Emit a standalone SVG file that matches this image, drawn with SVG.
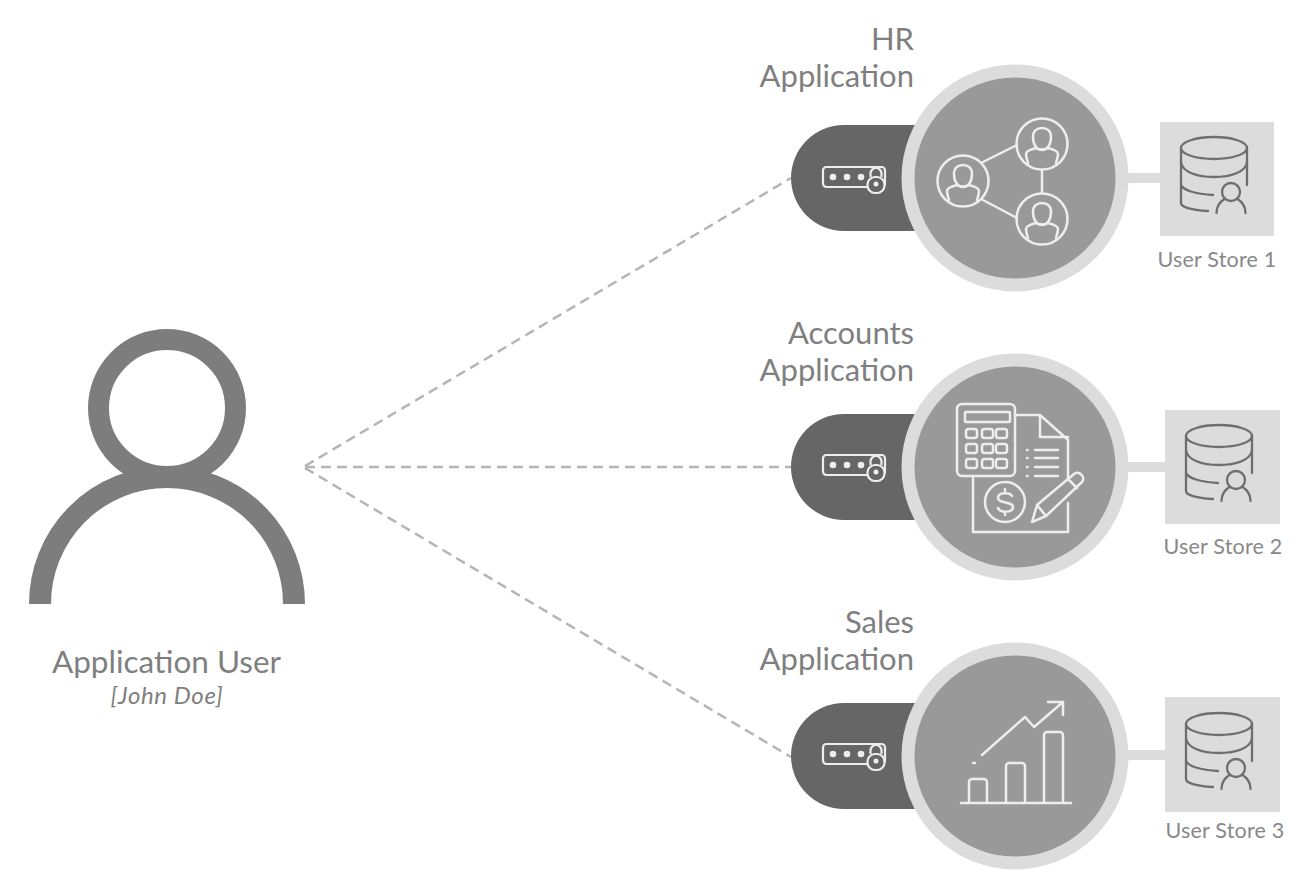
<svg xmlns="http://www.w3.org/2000/svg" width="1304" height="888" viewBox="0 0 1304 888">
<style>
text{font-family:"Lato","Open Sans","Liberation Sans",sans-serif;fill:#7f7f7f}
.app{font-size:31px;text-anchor:end}
.store{font-size:21.500px;fill:#888;text-anchor:middle;letter-spacing:.2px}
.dash{fill:none;stroke:#b5b5b5;stroke-width:2.500;stroke-dasharray:10 6}
.link{fill:#dcdcdc}
.ring{fill:#999;stroke:#dcdcdc;stroke-width:13}
.pill{fill:#666}
.box{fill:#dcdcdc}
.w{fill:none;stroke:#eee;stroke-width:2.500;stroke-linecap:round;stroke-linejoin:round}
.d{fill:none;stroke:#6e6e6e;stroke-width:2.300;stroke-linecap:round;stroke-linejoin:round}
</style>
<defs>
<g id="key">
<rect x="-21" y="-12" width="62" height="20" rx="3.500" fill="none" stroke="#eee" stroke-width="2.200"/>
<circle cx="-11" cy="-2" r="3.300" fill="#eee"/><circle cx="3" cy="-2" r="3.300" fill="#eee"/><circle cx="17" cy="-2" r="3.300" fill="#eee"/>
<path d="M26.500 -2v-3.500a5.500 5.500 0 0 1 11 0v3.500" fill="#666" stroke="#eee" stroke-width="2.200"/>
<rect x="23.500" y="-2" width="17" height="16" rx="7.500" fill="#666" stroke="#eee" stroke-width="2.200"/>
<circle cx="32" cy="5" r="2.500" fill="#eee"/>
</g>
<g id="db">
<ellipse cx="0" cy="-27" rx="33" ry="11"/>
<path d="M-33 -27V28c0 4 10 7 27 8M33 -27V10"/>
<path d="M-33 -13c1 10 16 15 33 15s32 -5 33 -15"/>
<path d="M-33 10c2 5 14 9 32 10"/>
<circle cx="17" cy="17" r="9"/>
<path d="M2.500 38c0 -6 3 -11 8 -14M31.500 38c0 -6 -3 -11 -8 -14"/>
</g>
<g id="person">
<circle r="25.500"/>
<path d="M-9 -7c0 -6 4 -9 9 -9s9 3 9 9c0 8 -4 13 -9 13s-9 -5 -9 -13z"/>
<path d="M-14 19c-1.500 -5 -2 -7 -2 -9c0 -3 6 -5 10 -6c3 2 9 2 12 0c4 1 10 3 10 6c0 2 -.5 4 -2 9"/>
</g>
</defs>

<g id="connectors">
<path class="dash" d="M305 466L791 178"/>
<path class="dash" d="M305 467H791"/>
<path class="dash" d="M305 468L791 757"/>
<rect class="link" x="1125" y="173" width="36" height="10"/>
<rect class="link" x="1125" y="462" width="42" height="10"/>
<rect class="link" x="1125" y="750" width="42" height="10"/>
</g>

<g id="user">
<circle cx="167" cy="408" r="68.500" fill="none" stroke="#7d7d7d" stroke-width="21"/>
<path d="M40 604A127 127 0 0 1 294 604" fill="none" stroke="#7d7d7d" stroke-width="22"/>
<text x="166.500" y="673" text-anchor="middle" style="font-size:31.500px">Application User</text>
<text x="167" y="704" text-anchor="middle" style="font-size:24px;font-style:italic;letter-spacing:.6px">[John Doe]</text>
</g>

<g id="hr-app">
<text class="app" x="914" y="50">HR</text>
<text class="app" x="914" y="87">Application</text>
<path class="pill" d="M925 125H844a53 53 0 0 0 0 106H925z"/>
<use href="#key" transform="translate(844 179)"/>
<circle class="ring" cx="1015" cy="178" r="107"/>
<g class="w">
<path d="M983 162L1017 145M983 200L1017 218M1042 170V193"/>
<use href="#person" transform="translate(963 181)"/>
<use href="#person" transform="translate(1042 144)"/>
<use href="#person" transform="translate(1042 219)"/>
</g>
</g>

<g id="accounts-app">
<text class="app" x="914" y="344">Accounts</text>
<text class="app" x="914" y="381">Application</text>
<path class="pill" d="M925 414H844a53 53 0 0 0 0 106H925z"/>
<use href="#key" transform="translate(844 467)"/>
<circle class="ring" cx="1015" cy="467" r="107"/>
<g class="w">
<rect x="957" y="404" width="58" height="72" rx="5"/>
<rect x="965" y="412" width="45" height="10" rx="1"/>
<rect x="966" y="429" width="11" height="9" rx="2.500"/><rect x="982" y="429" width="11" height="9" rx="2.500"/><rect x="996" y="429" width="11" height="9" rx="2.500"/>
<rect x="966" y="444" width="11" height="9" rx="2.500"/><rect x="982" y="444" width="11" height="9" rx="2.500"/><rect x="996" y="444" width="11" height="9" rx="2.500"/>
<rect x="966" y="459" width="11" height="9" rx="2.500"/><rect x="982" y="459" width="11" height="9" rx="2.500"/><rect x="996" y="459" width="11" height="9" rx="2.500"/>
<path d="M1015 415H1040L1068 440V478M1040 415V437H1068M1068 503V532H973V476"/>
<path d="M1035 450H1058M1035 458H1058M1035 467H1058M1035 476H1058M1027 450h.5M1027 458h.5M1027 467h.5M1027 476h.5"/>
<circle cx="1005" cy="502" r="20"/>
<path d="M1012 496c-2 -4 -14 -4 -14 2c0 6 15 3 15 9c0 6 -13 6 -15 1M1005 489v3M1005 512v3"/>
<path d="M1032 522L1037 505L1074 474C1079 470 1086 477 1082 482L1046 516z M1037 505L1046 516M1068 479L1077 488"/>
</g>
</g>

<g id="sales-app">
<text class="app" x="914" y="633">Sales</text>
<text class="app" x="914" y="670">Application</text>
<path class="pill" d="M925 703H844a53 53 0 0 0 0 106H925z"/>
<use href="#key" transform="translate(844 756)"/>
<circle class="ring" cx="1015" cy="756" r="107"/>
<g class="w">
<path d="M961 803H1071"/>
<path d="M969 803V782a3 3 0 0 1 3 -3H984a3 3 0 0 1 3 3V803M1006 803V766a3 3 0 0 1 3 -3H1022a3 3 0 0 1 3 3V803M1044 803V735a3 3 0 0 1 3 -3H1060a3 3 0 0 1 3 3V803"/>
<path d="M982 755L1025 717L1034 727L1063 702M1048 702H1063V715"/>
<path d="M973 763H975"/>
</g>
</g>

<g id="store-1">
<rect class="box" x="1160" y="122" width="114" height="114"/>
<use class="d" href="#db" transform="translate(1214 175)"/>
<text class="store" x="1217" y="267">User Store 1</text>
</g>
<g id="store-2">
<rect class="box" x="1165" y="410" width="115" height="114"/>
<use class="d" href="#db" transform="translate(1219 463)"/>
<text class="store" x="1223" y="554">User Store 2</text>
</g>
<g id="store-3">
<rect class="box" x="1165" y="697" width="115" height="115"/>
<use class="d" href="#db" transform="translate(1219 751)"/>
<text class="store" x="1225" y="838">User Store 3</text>
</g>
</svg>
